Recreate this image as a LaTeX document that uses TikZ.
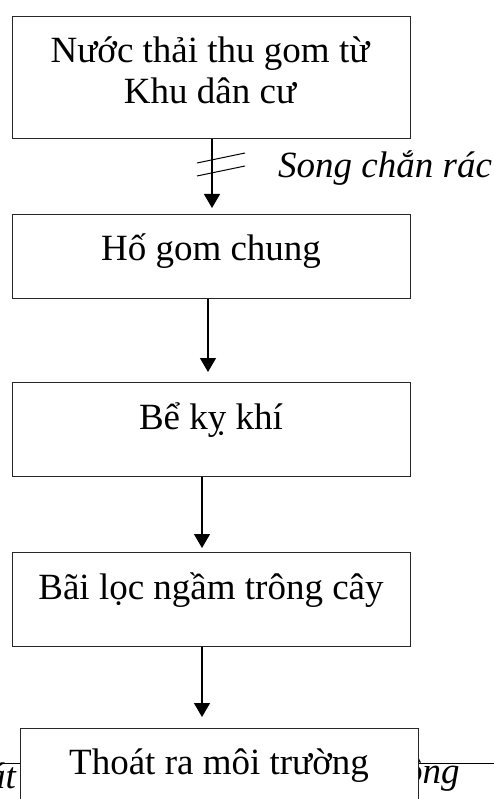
\documentclass[tikz,border=0pt]{standalone}
\usepackage{fontspec}
\setmainfont{Liberation Serif}
\usetikzlibrary{arrows.meta}
\begin{document}
\begin{tikzpicture}[x=1pt,y=-1pt,
  stage/.style={draw=black!85,line width=1.1pt,fill=white,anchor=north west,
    minimum width=398pt,inner sep=0pt},
  caption/.style={anchor=base,font=\fontsize{37}{42}\selectfont,inner sep=0pt},
  flow/.style={line width=1.2pt,-{Triangle[width=16pt,length=14pt]}},
  note/.style={font=\itshape\fontsize{37}{42}\selectfont,inner sep=0pt}]
\useasboundingbox (0,0) rectangle (494,799);
\clip (0,0) rectangle (494,799);

% boundary line running behind the last stage
\draw[line width=1pt] (0,763) -- (494,763);
\node[note,anchor=base east] (lt) at (16,788) {át};
\node[note,anchor=base west] (rt) at (404,783) {ộng};

% process stages
\node[stage,minimum height=122pt] (b1) at (12,16) {};
\node[stage,minimum height=84pt]  (b2) at (12,214) {};
\node[stage,minimum height=94pt]  (b3) at (12,382) {};
\node[stage,minimum height=94pt]  (b4) at (12,552) {};
\node[stage,minimum height=100pt] (b5) at (20,728) {};

\node[caption] (t1a) at (210,63) {Nước thải thu gom từ};
\node[caption] (t1b) at (210,104) {Khu dân cư};
\node[caption] (t2) at (211,261) {Hố gom chung};
\node[caption] (t3) at (211,429) {Bể kỵ khí};
\node[caption] (t4) at (211,599) {Bãi lọc ngầm trông cây};
\node[caption] (t5) at (219,774) {Thoát ra môi trường};

% connectors
\draw[flow,shorten >=6pt]  (b1.south -| 212,0) -- (b2.north -| 212,0);
\draw[flow,shorten >=10pt] (b2.south -| 208,0) -- (b3.north -| 208,0);
\draw[flow,shorten >=4pt]  (b3.south -| 202,0) -- (b4.north -| 202,0);
\draw[flow,shorten >=11pt] (b4.south -| 202,0) -- (b5.north -| 202,0);

% screen mark on the first connector
\coordinate (s1a) at (197,163);
\coordinate (s1b) at (245,153);
\coordinate (s2a) at (197,176);
\coordinate (s2b) at (245,166);
\draw[line width=1pt] (s1a) -- (s1b);
\draw[line width=1pt] (s2a) -- (s2b);
\node[note,anchor=base west] (screen) at (278,178) {Song chắn rác};
\end{tikzpicture}
\end{document}
